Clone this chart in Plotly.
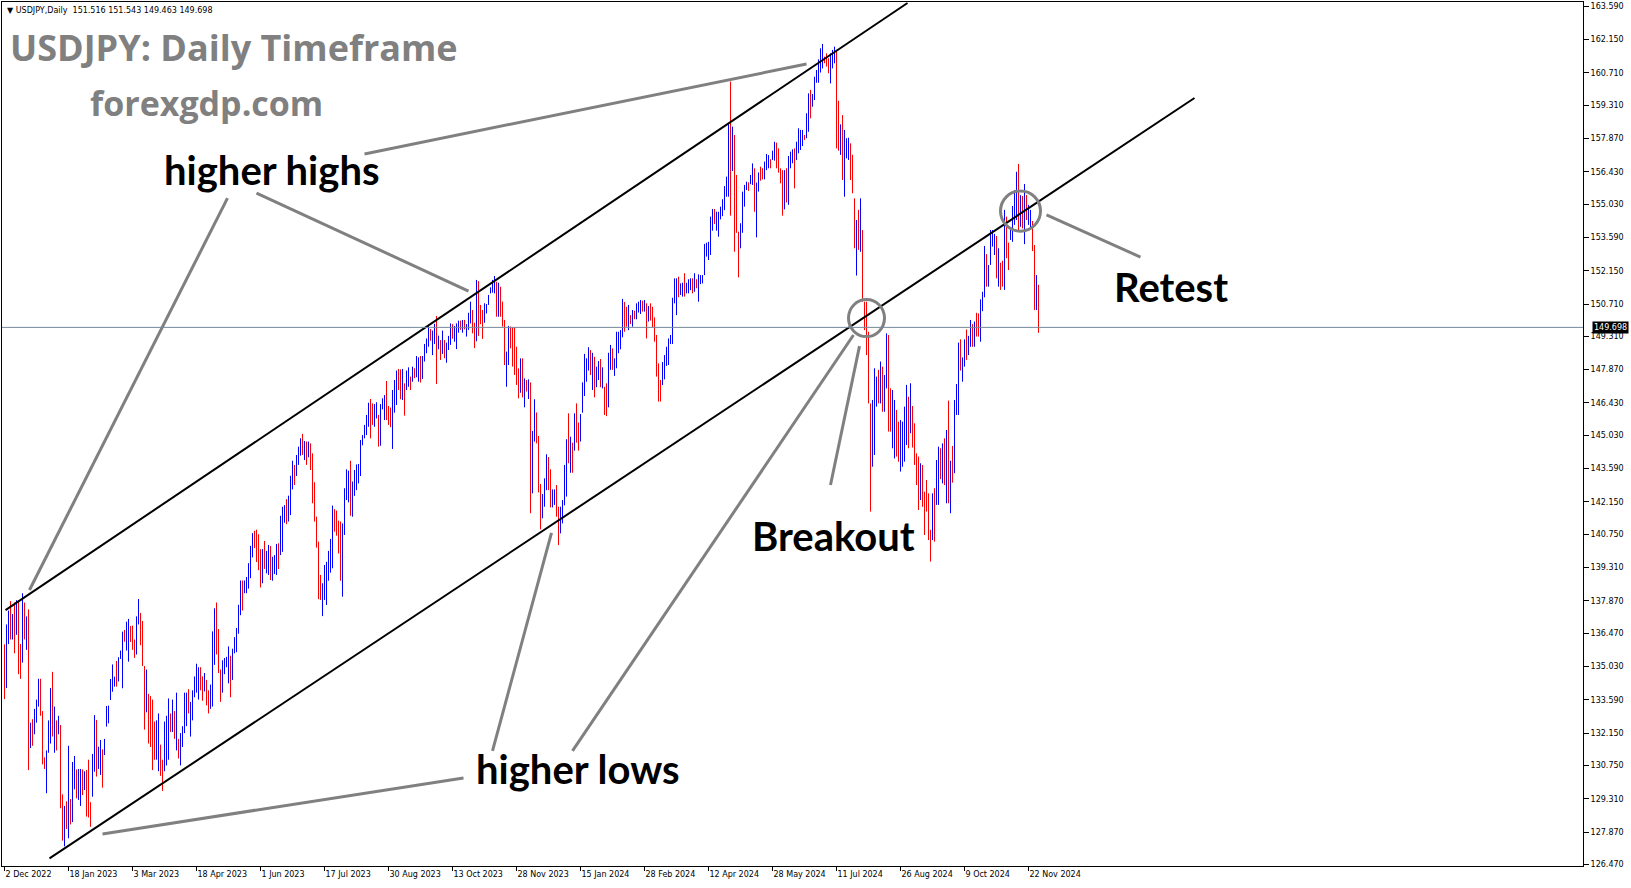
import plotly.graph_objects as go

# ---------------- data ----------------
first_open = 135.30

closes = [
    134.31, 136.75, 137.0, 136.6, 136.7, 136.55, 137.7, 135.6, 135.5, 137.7,
    136.6, 136.9, 131.7, 132.45, 132.35, 132.9, 133.5, 134.4, 133.0, 131.1,
    130.9, 131.0, 132.6, 133.4, 132.1, 132.2, 131.9, 132.5, 129.2, 127.9,
    128.5, 128.1, 128.9, 128.4, 129.6, 130.7, 130.2, 130.4, 130.5, 129.9,
    130.3, 130.05, 128.9, 128.7, 131.15, 132.6, 131.1, 131.4, 131.5, 131.35,
    131.8, 133.2, 133.3, 133.9, 134.3, 134.45, 134.3, 134.9, 135.45, 136.4,
    136.2, 136.3, 136.6, 136.2, 135.9, 135.85, 137.1, 137.3, 136.1, 135.2,
    133.2, 134.2, 133.3, 133.1, 131.8, 131.3, 132.4, 132.7, 130.9, 130.7,
    131.5, 132.6, 133.2, 132.5, 133.4, 132.4, 132.6, 131.3, 131.8, 132.2,
    133.6, 133.7, 133.1, 133.3, 133.8, 134.5, 134.7, 134.8, 134.3, 134.2,
    134.4, 133.7, 133.6, 133.9, 136.3, 137.4, 136.6, 134.8, 134.3, 134.8,
    135.1, 135.2, 135.6, 134.5, 135.7, 136.1, 136.4, 137.6, 138.6, 137.9,
    138.6, 138.65, 139.4, 140.1, 140.6, 140.4, 139.8, 139.3, 138.8, 140.0,
    139.6, 139.65, 140.1, 139.4, 139.5, 139.6, 140.2, 140.0, 140.3, 141.8,
    141.9, 141.5, 141.9, 143.1, 143.7, 143.4, 143.9, 144.3, 144.8, 144.3,
    144.7, 144.5, 144.7, 144.1, 142.2, 141.35, 140.4, 138.6, 138.1, 138.5,
    138.9, 139.3, 139.8, 140.3, 141.8, 141.5, 140.9, 140.2, 139.4, 141.1,
    142.3, 143.3, 143.35, 142.6, 142.7, 143.4, 143.5, 143.7, 144.7, 144.95,
    145.4, 145.6, 146.3, 145.8, 145.5, 146.2, 146.3, 144.8, 146.1, 146.4,
    146.5, 145.9, 145.7, 145.5, 146.2, 146.5, 147.7, 147.65, 147.3, 147.8,
    146.6, 147.1, 147.5, 147.3, 147.85, 147.6, 147.9, 148.3, 147.6, 148.4,
    148.9, 149.05, 149.6, 149.3, 149.4, 149.8, 149.0, 149.1, 148.5, 149.3,
    148.5, 148.7, 149.1, 149.8, 149.55, 149.6, 149.8, 149.85, 149.8, 149.9,
    149.7, 149.8, 150.2, 150.4, 149.6, 149.1, 151.7, 150.9, 150.4, 149.4,
    150.1, 150.4, 150.9, 151.3, 151.5, 151.7, 150.4, 151.4, 150.7, 149.8,
    148.4, 148.5, 149.5, 149.4, 149.3, 148.7, 147.4, 147.2, 148.2, 146.8,
    147.2, 147.1, 147.3, 144.2, 144.9, 146.2, 145.4, 142.9, 141.9, 142.2,
    142.8, 143.8, 143.6, 142.1, 142.4, 142.45, 141.8, 141.4, 141.6, 142.0,
    143.3, 144.6, 144.5, 144.8, 144.4, 145.7, 145.3, 144.9, 145.8, 147.2,
    148.1, 148.2, 148.3, 148.1, 148.4, 147.5, 147.65, 148.1, 147.5, 147.6,
    146.9, 146.4, 148.4, 148.7, 147.9, 148.2, 149.3, 149.35, 149.4, 150.8,
    150.6, 149.9, 150.2, 150.1, 150.3, 150.1, 150.5, 150.6, 150.7, 150.5,
    150.7, 149.9, 150.1, 150.05, 149.95, 149.4, 148.0, 147.1, 146.9, 148.0,
    148.3, 148.7, 149.0, 149.2, 150.8, 151.3, 151.6, 151.3, 151.4, 151.5,
    151.3, 151.4, 151.55, 151.6, 151.4, 151.7, 151.6, 151.8, 151.9, 151.95,
    153.2, 153.25, 153.3, 154.3, 154.6, 154.4, 154.6, 154.65, 154.8, 155.1,
    155.6, 156.0, 158.3, 156.7, 157.8, 155.0, 153.9, 153.0, 153.9, 154.7,
    155.6, 155.65, 155.62, 156.2, 156.5, 155.0, 155.4, 156.3, 156.2, 156.15,
    156.8, 157.0, 157.05, 156.9, 157.2, 157.6, 156.8, 156.6, 156.1, 154.8,
    156.1, 155.6, 156.7, 157.1, 157.2, 156.7, 157.0, 157.4, 157.7, 157.9,
    157.85, 158.9, 159.8, 159.6, 159.7, 160.4, 160.7, 160.9, 161.5, 161.6,
    161.2, 161.1, 160.8, 160.85, 161.3, 161.7, 159.0, 157.9, 158.1, 156.6,
    157.4, 157.6, 157.7, 157.0, 155.6, 153.9, 154.0, 153.7, 154.0, 152.8,
    149.9, 149.4, 146.6, 144.2, 144.4, 146.7, 147.3, 146.6, 147.2, 146.8,
    147.3, 149.2, 147.6, 145.6, 146.0, 146.3, 144.8, 144.4, 144.6, 145.0,
    145.9, 146.9, 146.2, 146.9, 145.4, 143.8, 143.4, 142.3, 143.1, 142.5,
    142.3, 141.8, 140.8, 140.6, 142.4, 142.3, 142.6, 143.9, 143.6, 143.8,
    143.6, 144.9, 142.2, 143.6, 143.5, 146.5, 146.9, 148.7, 148.2, 148.25,
    149.1, 148.6, 149.1, 149.7, 149.2, 149.6, 149.5, 149.45, 150.8, 151.1,
    152.7, 151.8, 152.3, 153.3, 153.5, 153.6, 152.0, 152.9, 152.2, 151.6,
    154.6, 152.9, 152.6, 153.7, 154.6, 155.5, 156.3, 154.3, 154.6, 154.5,
    155.4, 154.5, 154.55, 154.6, 153.1, 151.1, 151.516, 149.698,
]

highs = [
    135.99, 136.85, 137.45, 137.86, 137.3, 137.8, 137.9, 137.9, 136.0, 138.2,
    137.8, 137.2, 137.5, 132.6, 132.75, 133.2, 133.6, 134.5, 134.5, 133.1,
    131.1, 131.4, 132.7, 134.1, 134.8, 133.3, 132.7, 132.9, 132.5, 129.5,
    129.0, 129.2, 131.6, 129.3, 130.9, 131.16, 130.58, 130.6, 130.6, 130.58,
    130.5, 130.55, 131.0, 129.16, 131.25, 132.93, 132.72, 131.56, 131.85, 131.45,
    131.9, 133.32, 133.34, 134.49, 135.12, 134.59, 135.27, 135.43, 135.72, 136.54,
    136.61, 136.97, 137.09, 136.78, 136.8, 136.2, 137.2, 137.95, 137.35, 137.0,
    135.05, 134.9, 133.85, 133.75, 133.6, 132.65, 132.7, 133.0, 131.65, 131.0,
    132.65, 132.9, 133.65, 133.0, 133.6, 133.1, 133.9, 131.9, 132.15, 132.45,
    133.9, 133.9, 134.05, 133.5, 134.0, 134.6, 135.15, 135.0, 135.0, 134.6,
    134.75, 134.45, 134.0, 134.25, 136.55, 137.55, 137.8, 136.65, 134.9, 135.3,
    135.4, 135.45, 135.9, 135.5, 135.8, 136.3, 136.7, 137.7, 138.75, 138.75,
    138.75, 138.9, 139.5, 140.25, 140.8, 140.9, 140.95, 140.75, 140.1, 140.11,
    140.46, 140.03, 140.29, 140.24, 139.78, 139.85, 140.33, 140.36, 141.55, 141.94,
    142.01, 142.27, 142.42, 143.28, 143.93, 143.75, 144.18, 144.54, 144.9, 145.09,
    144.78, 144.76, 144.76, 144.68, 144.25, 143.0, 141.51, 140.43, 138.99, 138.63,
    139.42, 139.56, 140.03, 140.55, 141.99, 141.84, 141.77, 141.34, 141.3, 141.22,
    142.74, 143.56, 143.5, 143.93, 143.03, 143.53, 143.77, 143.79, 144.83, 145.04,
    145.48, 145.91, 146.44, 146.6, 146.41, 146.38, 146.46, 145.91, 146.38, 146.63,
    146.77, 147.38, 146.3, 146.23, 146.99, 147.42, 147.83, 147.9, 147.88, 147.9,
    147.28, 147.83, 147.97, 147.57, 148.0, 147.93, 148.46, 148.4, 148.46, 148.46,
    148.98, 149.22, 149.79, 149.63, 149.56, 149.85, 150.19, 149.34, 149.15, 149.56,
    149.15, 149.04, 149.33, 149.87, 149.84, 149.76, 149.87, 149.99, 149.99, 150.02,
    150.02, 149.84, 150.33, 150.81, 150.45, 149.9, 151.75, 151.7, 150.67, 150.45,
    150.74, 150.71, 151.1, 151.43, 151.75, 151.92, 151.67, 151.63, 151.46, 150.81,
    150.02, 148.65, 149.76, 149.73, 149.7, 149.7, 148.86, 147.93, 148.36, 148.36,
    147.49, 147.42, 147.45, 147.32, 145.22, 146.59, 146.02, 145.0, 142.92, 142.49,
    143.17, 144.21, 144.09, 143.56, 142.69, 142.69, 142.88, 141.94, 141.94, 142.23,
    143.75, 144.86, 145.98, 144.97, 144.71, 145.98, 146.41, 145.58, 145.95, 147.32,
    148.55, 148.36, 148.84, 148.72, 148.6, 148.43, 148.0, 148.24, 148.33, 147.97,
    147.13, 147.28, 148.6, 148.94, 148.79, 148.36, 149.51, 149.51, 149.58, 150.93,
    150.8, 150.59, 150.67, 150.23, 150.45, 150.42, 150.74, 150.81, 150.88, 150.85,
    150.88, 150.74, 150.62, 150.74, 150.59, 150.13, 149.37, 148.14, 147.42, 148.2,
    148.5, 148.86, 149.22, 149.37, 150.98, 151.82, 151.82, 151.89, 151.6, 151.63,
    152.04, 151.63, 151.78, 151.82, 151.82, 152.04, 151.78, 151.99, 151.96, 151.96,
    153.31, 153.36, 153.4, 154.49, 154.82, 154.82, 154.7, 154.7, 154.92, 155.24,
    155.81, 156.22, 158.49, 160.33, 158.38, 158.02, 156.29, 153.84, 154.2, 155.57,
    155.86, 156.0, 155.97, 156.29, 156.79, 156.58, 155.96, 156.4, 156.65, 156.58,
    156.87, 157.2, 157.15, 156.97, 157.34, 157.73, 157.69, 157.44, 156.58, 156.5,
    156.5, 156.58, 157.11, 157.3, 157.4, 157.44, 157.73, 158.31, 158.24, 158.24,
    158.02, 158.96, 159.82, 159.97, 159.79, 160.54, 160.83, 161.29, 161.77, 161.96,
    161.41, 161.55, 161.34, 161.55, 161.7, 161.84, 161.7, 159.5, 158.48, 158.88,
    158.24, 157.88, 157.9, 157.66, 157.16, 155.28, 154.34, 154.78, 155.28, 153.91,
    150.81, 150.81, 149.51, 146.41, 146.56, 147.93, 147.57, 147.86, 148.22, 148.0,
    147.64, 149.44, 149.37, 147.06, 146.99, 146.56, 146.13, 145.62, 145.69, 145.62,
    146.27, 147.21, 146.7, 147.28, 146.3, 145.55, 144.25, 144.11, 143.82, 143.75,
    142.59, 143.1, 142.52, 140.94, 142.52, 142.74, 143.96, 144.54, 144.47, 144.68,
    144.9, 145.26, 146.53, 143.93, 144.57, 146.56, 147.25, 149.04, 149.18, 148.4,
    149.18, 149.61, 149.33, 150.02, 149.84, 149.95, 150.33, 150.3, 150.91, 151.24,
    153.22, 152.87, 152.4, 153.91, 153.91, 153.74, 153.65, 153.12, 152.5, 152.58,
    154.78, 154.49, 153.36, 154.03, 154.95, 155.64, 156.43, 156.77, 155.42, 155.38,
    155.9, 155.42, 155.0, 154.78, 154.3, 153.26, 151.96, 151.543,
]

lows = [
    133.62, 134.1, 136.0, 136.2, 136.2, 135.6, 136.4, 134.7, 134.5, 135.2,
    136.2, 135.75, 130.55, 131.5, 131.6, 132.1, 132.6, 133.3, 132.9, 130.8,
    130.6, 129.55, 131.3, 131.7, 132.0, 131.3, 131.4, 132.1, 128.9, 127.5,
    127.25, 128.0, 127.6, 128.2, 128.3, 129.72, 129.33, 129.26, 129.0, 129.47,
    129.69, 128.54, 128.5, 128.1, 129.4, 130.48, 130.27, 130.6, 130.34, 129.79,
    131.2, 132.43, 132.57, 133.58, 133.94, 134.16, 134.16, 134.38, 135.36, 134.09,
    136.1, 135.72, 135.24, 136.09, 135.75, 135.4, 135.55, 136.85, 135.95, 135.05,
    132.3, 133.05, 131.7, 131.55, 130.55, 131.0, 131.0, 130.5, 130.3, 129.65,
    130.5, 130.75, 131.0, 132.2, 132.2, 131.9, 131.4, 131.05, 130.75, 131.55,
    132.15, 132.45, 133.0, 132.0, 132.7, 133.7, 133.9, 133.6, 134.0, 133.55,
    133.95, 133.35, 133.0, 133.2, 133.3, 135.1, 135.55, 134.75, 133.5, 133.9,
    134.7, 135.0, 134.3, 133.7, 134.45, 135.6, 135.65, 136.45, 137.25, 137.45,
    138.2, 138.2, 138.4, 138.85, 139.75, 140.15, 139.55, 139.2, 138.45, 138.63,
    139.25, 139.06, 138.99, 138.77, 138.74, 139.03, 138.99, 139.25, 139.85, 139.99,
    141.25, 141.19, 141.3, 141.58, 142.69, 142.88, 143.27, 143.75, 144.15, 144.18,
    143.96, 143.75, 144.08, 143.53, 142.09, 141.3, 140.17, 137.94, 137.91, 137.21,
    137.91, 137.69, 138.74, 139.09, 139.28, 140.86, 140.69, 139.92, 138.74, 138.05,
    140.72, 142.23, 142.13, 141.55, 141.51, 142.41, 142.66, 142.95, 143.27, 144.6,
    144.9, 145.04, 145.4, 144.9, 145.48, 145.4, 145.76, 144.54, 144.58, 146.15,
    145.69, 145.69, 145.48, 145.38, 144.44, 146.01, 146.34, 146.99, 146.59, 146.56,
    145.88, 146.99, 147.13, 146.99, 147.35, 147.5, 147.54, 147.35, 147.31, 147.47,
    148.22, 148.58, 148.86, 149.12, 148.5, 148.98, 147.25, 148.75, 148.29, 148.55,
    148.36, 148.17, 148.72, 148.94, 149.21, 149.08, 148.76, 149.47, 149.59, 149.47,
    149.61, 149.3, 149.59, 149.87, 149.44, 148.8, 149.1, 149.33, 149.84, 149.2,
    149.9, 150.3, 150.67, 151.17, 151.2, 151.17, 150.16, 150.16, 150.16, 149.73,
    148.07, 147.13, 148.07, 148.79, 148.0, 147.64, 147.21, 146.63, 146.87, 146.67,
    146.24, 146.92, 146.6, 141.66, 142.52, 144.76, 144.68, 142.56, 140.96, 141.44,
    141.94, 142.66, 142.66, 141.91, 141.91, 142.02, 141.51, 140.28, 140.79, 141.22,
    142.0, 142.38, 143.82, 143.41, 143.41, 144.37, 144.71, 144.37, 144.76, 146.01,
    146.73, 147.35, 147.83, 147.64, 146.99, 146.67, 147.11, 147.42, 147.11, 147.06,
    145.91, 145.86, 146.24, 147.86, 147.86, 147.6, 147.93, 148.58, 148.75, 149.27,
    149.51, 149.73, 149.58, 149.84, 149.73, 150.05, 150.05, 150.34, 150.28, 150.38,
    150.38, 149.22, 149.95, 149.99, 149.7, 149.08, 147.57, 146.49, 146.49, 147.2,
    147.45, 148.03, 148.07, 148.98, 148.98, 150.74, 150.23, 151.0, 151.1, 151.03,
    151.03, 151.17, 151.17, 151.31, 151.17, 151.24, 151.39, 150.81, 151.57, 151.6,
    151.96, 152.76, 152.61, 152.83, 153.88, 154.17, 153.88, 153.62, 154.37, 154.51,
    154.77, 155.35, 155.35, 154.53, 156.46, 152.97, 153.79, 151.86, 153.12, 153.79,
    154.92, 155.64, 155.6, 155.89, 155.86, 154.7, 153.59, 155.57, 156.04, 156.1,
    156.1, 156.5, 156.58, 156.58, 156.94, 156.91, 156.58, 156.39, 155.93, 154.53,
    154.8, 155.1, 155.0, 156.58, 156.8, 155.71, 156.94, 157.23, 157.37, 157.54,
    157.8, 157.88, 158.16, 158.74, 159.24, 159.53, 160.28, 160.28, 160.72, 160.9,
    161.12, 160.98, 160.69, 160.25, 160.9, 161.12, 157.44, 157.34, 157.16, 156.07,
    155.35, 157.01, 156.94, 156.07, 155.5, 153.12, 151.94, 153.05, 152.97, 150.81,
    149.58, 148.5, 146.41, 141.73, 143.67, 144.18, 146.27, 146.41, 146.41, 146.05,
    146.05, 147.06, 145.19, 145.19, 144.47, 144.03, 144.11, 143.89, 143.46, 143.67,
    143.89, 144.61, 144.47, 145.12, 144.5, 143.75, 142.88, 141.8, 142.23, 141.94,
    140.72, 141.73, 140.5, 139.57, 140.5, 140.43, 142.02, 142.02, 143.13, 142.95,
    142.88, 142.09, 142.09, 141.66, 142.98, 143.39, 145.91, 145.91, 147.83, 147.35,
    148.0, 148.29, 148.5, 148.86, 148.86, 148.86, 149.3, 149.3, 149.08, 150.4,
    151.0, 151.46, 151.46, 152.4, 153.19, 152.83, 151.82, 151.46, 151.32, 151.46,
    151.32, 152.69, 152.18, 153.48, 153.4, 154.13, 154.34, 153.91, 154.05, 153.98,
    153.3, 154.34, 154.13, 153.94, 153.0, 150.45, 150.45, 149.463,
]

x_tick_bars = [0, 32, 64, 96, 128, 160, 192, 224, 256, 288, 320, 352, 384, 416, 448, 480, 512]
x_tick_text = ["2 Dec 2022", "18 Jan 2023", "3 Mar 2023", "18 Apr 2023", "1 Jun 2023",
               "17 Jul 2023", "30 Aug 2023", "13 Oct 2023", "28 Nov 2023", "15 Jan 2024",
               "28 Feb 2024", "12 Apr 2024", "28 May 2024", "11 Jul 2024", "26 Aug 2024",
               "9 Oct 2024", "22 Nov 2024"]
y_tick_vals = [163.59, 162.15, 160.71, 159.31, 157.87, 156.43, 155.03, 153.59, 152.15,
               150.71, 149.31, 147.87, 146.43, 145.03, 143.59, 142.15, 140.75, 139.31,
               137.87, 136.47, 135.03, 133.59, 132.15, 130.75, 129.31, 127.87, 126.47]
last_price = 149.698
header_text = "\u25bc USDJPY,Daily  151.516 151.543 149.463 149.698"

# drawing objects anchored at (bar index, price)
channel_lines = [((0.5, 137.47), (451.5, 163.73)),
                 ((22.5, 126.73), (595.0, 159.62))]
pointer_lines = [((111.5, 155.29), (12.5, 138.34)),
                 ((126.0, 155.51), (232.0, 151.27)),
                 ((180.0, 157.20), (401.0, 161.09)),
                 ((244.0, 131.38), (273.5, 140.81)),
                 ((284.0, 131.38), (424.5, 149.37)),
                 ((229.5, 130.21), (49.0, 127.79)),
                 ((413.0, 142.88), (427.5, 148.89)),
                 ((521.0, 154.56), (568.0, 152.74))]
circles = [(431.0, 150.10, 9.0, 0.80), (508.0, 154.73, 10.0, 0.87)]

# ---------------- figure ----------------
W, H = 1631, 888
ML, MR, MT, MB = 2, 48, 2, 22
PW, PH = W - ML - MR, H - MT - MB

def px(xp):
    return (xp - ML) / PW

def py(yp):
    return 1 - (yp - MT) / PH

opens = [first_open] + closes[:-1]
bars = list(range(len(closes)))

fig = go.Figure()
fig.add_trace(go.Ohlc(
    x=bars, open=opens, high=highs, low=lows, close=closes,
    increasing=dict(line=dict(color="#0000ff", width=1)),
    decreasing=dict(line=dict(color="#ff0000", width=1)),
    tickwidth=0, hoverinfo="skip", showlegend=False,
))

shapes = []
for (a, b) in channel_lines:
    shapes.append(dict(type="line", xref="x", yref="y", x0=a[0], y0=a[1], x1=b[0], y1=b[1],
                       line=dict(color="#000000", width=2)))
for (a, b) in pointer_lines:
    shapes.append(dict(type="line", xref="x", yref="y", x0=a[0], y0=a[1], x1=b[0], y1=b[1],
                       line=dict(color="#808080", width=3)))
for (cx, cy, rx, ry) in circles:
    shapes.append(dict(type="circle", xref="x", yref="y", x0=cx - rx, x1=cx + rx,
                       y0=cy - ry, y1=cy + ry, line=dict(color="#808080", width=3)))
shapes.append(dict(type="line", xref="paper", yref="y", x0=0, x1=1, y0=last_price, y1=last_price,
                   line=dict(color="#778899", width=1)))

ann = []
ann.append(dict(text=header_text, xref="paper", yref="paper", x=px(5), y=py(11),
                xanchor="left", yanchor="middle", showarrow=False,
                font=dict(family="DejaVu Sans", size=8, color="#000000")))
ann.append(dict(text="USDJPY: Daily Timeframe", xref="paper", yref="paper", x=px(8), y=py(48),
                xanchor="left", yanchor="middle", showarrow=False,
                font=dict(family="Open Sans", size=36, color="#808080", weight="bold")))
ann.append(dict(text="forexgdp.com", xref="paper", yref="paper", x=px(88), y=py(103),
                xanchor="left", yanchor="middle", showarrow=False,
                font=dict(family="Open Sans", size=34, color="#808080", weight="bold")))
black_font = dict(family="Lato", size=40, color="#000000", weight="bold")
for txt, xx, yy in [("higher highs", 162, 170), ("higher lows", 474, 769),
                    ("Breakout", 750, 536), ("Retest", 1112, 287)]:
    ann.append(dict(text=txt, xref="paper", yref="paper", x=px(xx), y=py(yy),
                    xanchor="left", yanchor="middle", showarrow=False, font=black_font))
ann.append(dict(text="%.3f" % last_price, xref="paper", yref="y", x=1, y=last_price,
                xanchor="left", yanchor="middle", xshift=9, showarrow=False,
                bgcolor="#000000", borderpad=1,
                font=dict(family="DejaVu Sans", size=8, color="#ffffff")))

fig.update_layout(
    width=W, height=H,
    margin=dict(l=ML, r=MR, t=MT, b=MB, pad=0),
    paper_bgcolor="#ffffff", plot_bgcolor="#ffffff",
    showlegend=False, hovermode=False,
    shapes=shapes, annotations=ann,
    xaxis=dict(range=[-1.25, 789.25], showgrid=False, zeroline=False,
               showline=True, mirror=True, linecolor="#000000", linewidth=1,
               ticks="outside", ticklen=4, tickcolor="#000000",
               tickvals=x_tick_bars, ticktext=x_tick_text,
               ticklabelposition="outside right",
               tickfont=dict(family="DejaVu Sans", size=8, color="#000000"),
               rangeslider=dict(visible=False), fixedrange=True),
    yaxis=dict(range=[126.402, 163.772], side="right", showgrid=False, zeroline=False,
               showline=True, mirror=True, linecolor="#000000", linewidth=1,
               ticks="outside", ticklen=5, tickcolor="#000000",
               tickvals=y_tick_vals, ticktext=["%.3f" % v for v in y_tick_vals],
               tickfont=dict(family="DejaVu Sans", size=8, color="#000000"),
               fixedrange=True),
)

fig.write_html("out.html", config={"displayModeBar": False},
               post_script="document.body.style.margin='0px';document.body.style.overflow='hidden';")
